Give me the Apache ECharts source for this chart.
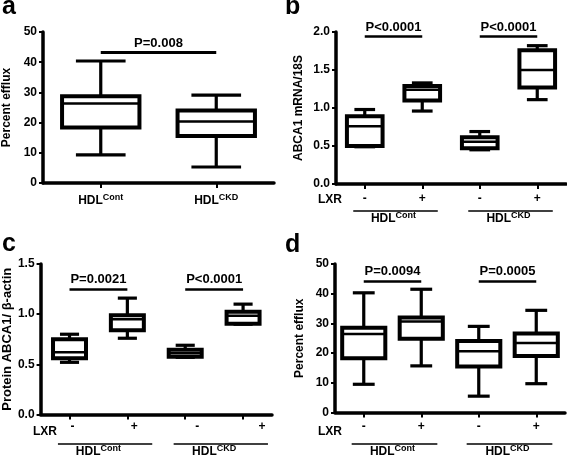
<!DOCTYPE html>
<html><head><meta charset="utf-8">
<script src="https://cdn.jsdelivr.net/npm/echarts@6/dist/echarts.min.js"></script>
<style>html,body{margin:0;padding:0;background:#fff}#c{width:567px;height:458px}</style>
</head><body><div id="c"></div>
<script>
// ---------- data ----------
const groupNames = ['Cont', 'CKD'];
const lxrCategories = ['Cont|-', 'Cont|+', 'CKD|-', 'CKD|+'];
// box values: [min, Q1, median, Q3, max]
const effluxHDL = [
  [9.3, 18.4, 26.3, 28.7, 40.4],
  [5.3, 15.6, 20.4, 24.0, 29.1]
];
const mrnaABCA1 = [
  [0.49, 0.50, 0.76, 0.89, 0.98],
  [0.96, 1.10, 1.24, 1.29, 1.33],
  [0.45, 0.47, 0.555, 0.615, 0.69],
  [1.11, 1.27, 1.50, 1.76, 1.82]
];
const proteinABCA1 = [
  [0.52, 0.56, 0.62, 0.75, 0.80],
  [0.76, 0.84, 0.95, 0.99, 1.16],
  [0.57, 0.575, 0.61, 0.645, 0.69],
  [0.90, 0.905, 0.984, 1.025, 1.10]
];
const effluxLXR = [
  [9.5, 18.3, 26.4, 28.5, 40.3],
  [15.7, 24.8, 30.6, 32.0, 41.5],
  [5.5, 15.5, 20.6, 24.1, 29.0],
  [9.7, 19.0, 23.4, 26.6, 34.4]
];
// significance bars: pairs of category indices, level (axis units), text
const pPairsA = [[0, 1]];
const pLevelsA = [43.2];
const pTextsA = ['P=0.008'];
const pPairsLXR = [[0, 1], [2, 3]];
const pLevelsB = [1.94, 1.94];
const pTextsB = ['P<0.0001', 'P<0.0001'];
const pLevelsC = [1.25, 1.25];
const pTextsC = ['P=0.0021', 'P<0.0001'];
const pLevelsD = [44.2, 44.2];
const pTextsD = ['P=0.0094', 'P=0.0005'];
const panelLetters = ['a', 'b', 'c', 'd'];
const yNames = ['Percent efflux', 'ABCA1 mRNA/18S', 'Protein ABCA1/ \u03b2-actin', 'Percent efflux'];

// ---------- styling ----------
const F = '"Liberation Sans", Arial, Helvetica, sans-serif';
const txt = { fontFamily: F, fontWeight: 'bold', color: '#000' };
const grids = [
  { left: 43, top: 32, width: 231, height: 151 },
  { left: 336, top: 32, width: 230, height: 152 },
  { left: 40, top: 264, width: 232, height: 155 },
  { left: 335, top: 264, width: 230, height: 153 }
];
const axisLine = { show: true, onZero: false, lineStyle: { color: '#000', width: 3.5 } };
const hdlRich = {
  b: Object.assign({}, txt, { fontSize: 12 }),
  s: Object.assign({}, txt, { fontSize: 9, padding: [0, 0, 6, 0] })
};
const hdlFmt = g => '{b|HDL}{s|' + g + '}';
const signOf = v => v.split('|')[1];
const cShift = [3, 7, 12, 19];
const cRich = {};
cShift.forEach((s, i) => { cRich['s' + i] = Object.assign({}, txt, { fontSize: 12, padding: [0, 0, 0, 2 * s] }); });

function lxrAxis(gi, margin, rich) {
  return {
    gridIndex: gi, type: 'category', data: lxrCategories, position: 'bottom',
    axisLine: axisLine,
    axisTick: { show: true, alignWithLabel: true, length: 5, lineStyle: { color: '#000', width: 2 } },
    axisLabel: Object.assign({}, txt, {
      fontSize: 12, margin: margin, interval: 0,
      formatter: rich ? (v, i) => '{s' + i + '|' + signOf(v) + '}' : signOf,
      rich: rich || undefined
    })
  };
}
function groupAxis(gi, margin) {
  return {
    gridIndex: gi, type: 'category', data: groupNames, position: 'bottom',
    axisLine: { show: false }, axisTick: { show: false },
    axisLabel: { margin: margin, interval: 0, formatter: hdlFmt, rich: hdlRich }
  };
}
function yAxis(gi, max, interval, name, gap, dec, nameSize) {
  return {
    gridIndex: gi, type: 'value', min: 0, max: max, interval: interval,
    name: name, nameLocation: 'middle', nameGap: gap,
    nameTextStyle: Object.assign({}, txt, { fontSize: nameSize }),
    axisLine: axisLine,
    axisTick: { show: true, length: 4, lineStyle: { color: '#000', width: 2 } },
    axisLabel: Object.assign({}, txt, { fontSize: 12, margin: 6, formatter: v => dec ? v.toFixed(dec) : String(v) }),
    splitLine: { show: false }
  };
}
function boxSeries(xi, yi, values, boxRatio, capRatio, pairs, levels, texts, barWidth) {
  return {
    type: 'custom', xAxisIndex: xi, yAxisIndex: yi, clip: false,
    data: values.map((v, i) => [i].concat(v)),
    encode: { x: 0, y: [1, 2, 3, 4, 5] },
    renderItem: (params, api) => {
      const i = api.value(0);
      const band = api.size([1, 0])[0];
      const pt = k => api.coord([i, api.value(k)]);
      const x = pt(3)[0];
      const yMin = pt(1)[1], yQ1 = pt(2)[1], yMed = pt(3)[1], yQ3 = pt(4)[1], yMax = pt(5)[1];
      const bw = band * boxRatio, cw = band * capRatio;
      const ls = { stroke: '#000', lineWidth: 3.2, fill: null };
      return {
        type: 'group', children: [
          { type: 'line', shape: { x1: x, y1: yQ3, x2: x, y2: yMax }, style: ls },
          { type: 'line', shape: { x1: x, y1: yQ1, x2: x, y2: yMin }, style: ls },
          { type: 'line', shape: { x1: x - cw / 2, y1: yMax, x2: x + cw / 2, y2: yMax }, style: ls },
          { type: 'line', shape: { x1: x - cw / 2, y1: yMin, x2: x + cw / 2, y2: yMin }, style: ls },
          { type: 'rect', shape: { x: x - bw / 2, y: yQ3, width: bw, height: yQ1 - yQ3 }, style: { fill: '#fff', stroke: '#000', lineWidth: 4 } },
          { type: 'line', shape: { x1: x - bw / 2, y1: yMed, x2: x + bw / 2, y2: yMed }, style: { stroke: '#000', lineWidth: 2.5 } }
        ]
      };
    },
    markLine: {
      silent: true, symbol: 'none', animation: false,
      lineStyle: { color: '#000', width: barWidth, type: 'solid' },
      emphasis: { disabled: true },
      label: Object.assign({}, txt, { show: true, position: 'insideMiddleTop', distance: 3, fontSize: 13, formatter: '{b}' }),
      data: pairs.map((pr, k) => [{ coord: [pr[0], levels[k]], name: texts[k] }, { coord: [pr[1], levels[k]] }])
    }
  };
}

const option = {
  backgroundColor: '#fff',
  animation: false,
  title: [
    { text: panelLetters[0], left: 2, top: -5 },
    { text: panelLetters[1], left: 285, top: -5 },
    { text: panelLetters[2], left: 2, top: 232 },
    { text: panelLetters[3], left: 285, top: 233 }
  ].map(t => Object.assign(t, { padding: 0, textStyle: Object.assign({}, txt, { fontSize: 25 }) })),
  grid: grids,
  xAxis: [
    {
      gridIndex: 0, type: 'category', data: groupNames, position: 'bottom',
      axisLine: axisLine,
      axisTick: { show: true, alignWithLabel: true, length: 5, lineStyle: { color: '#000', width: 2 } },
      axisLabel: { margin: 10, interval: 0, formatter: hdlFmt, rich: hdlRich }
    },
    lxrAxis(1, 9), groupAxis(1, 27),
    lxrAxis(2, 6, cRich), groupAxis(2, 30),
    lxrAxis(3, 8), groupAxis(3, 32)
  ],
  yAxis: [
    yAxis(0, 50, 10, yNames[0], 30, 0, 12),
    yAxis(1, 2, 0.5, yNames[1], 31, 1, 12),
    yAxis(2, 1.5, 0.5, yNames[2], 26, 1, 13),
    yAxis(3, 50, 10, yNames[3], 29, 0, 12)
  ],
  series: [
    boxSeries(0, 0, effluxHDL, 0.67, 0.43, pPairsA, pLevelsA, pTextsA, 3),
    boxSeries(1, 1, mrnaABCA1, 0.62, 0.36, pPairsLXR, pLevelsB, pTextsB, 2.5),
    boxSeries(3, 2, proteinABCA1, 0.57, 0.33, pPairsLXR, pLevelsC, pTextsC, 2.5),
    boxSeries(5, 3, effluxLXR, 0.75, 0.38, pPairsLXR, pLevelsD, pTextsD, 2.5)
  ]
};

const chart = echarts.init(document.getElementById('c'), null, { renderer: 'canvas' });
chart.setOption(option);

// group underlines and LXR labels, positioned from the axes
const deco = [
  { xAxisIndex: 1, grid: grids[1], lineOff: 27, lxrOff: 16, lxrDx: -18, ext: [0.2, 0.27] },
  { xAxisIndex: 3, grid: grids[2], lineOff: 25, lxrOff: 13, lxrDx: -7, ext: [0.2, 0.43] },
  { xAxisIndex: 5, grid: grids[3], lineOff: 27, lxrOff: 15, lxrDx: -17, ext: [0.21, 0.28] }
];
const graphics = [];
deco.forEach(d => {
  const c = lxrCategories.map((_, i) => chart.convertToPixel({ xAxisIndex: d.xAxisIndex }, i));
  const band = c[1] - c[0];
  const bottom = d.grid.top + d.grid.height;
  [[0, 1], [2, 3]].forEach(pr => {
    graphics.push({
      type: 'line', silent: true,
      shape: { x1: c[pr[0]] - d.ext[0] * band, y1: bottom + d.lineOff, x2: c[pr[1]] + d.ext[1] * band, y2: bottom + d.lineOff },
      style: { stroke: '#000', lineWidth: 1.5 }
    });
  });
  graphics.push({
    type: 'text', silent: true,
    x: d.grid.left + d.lxrDx, y: bottom + d.lxrOff,
    style: { text: 'LXR', font: 'bold 12px ' + F, fill: '#000', align: 'left', verticalAlign: 'middle' }
  });
});
chart.setOption({ graphic: graphics });
</script>
</body></html>
